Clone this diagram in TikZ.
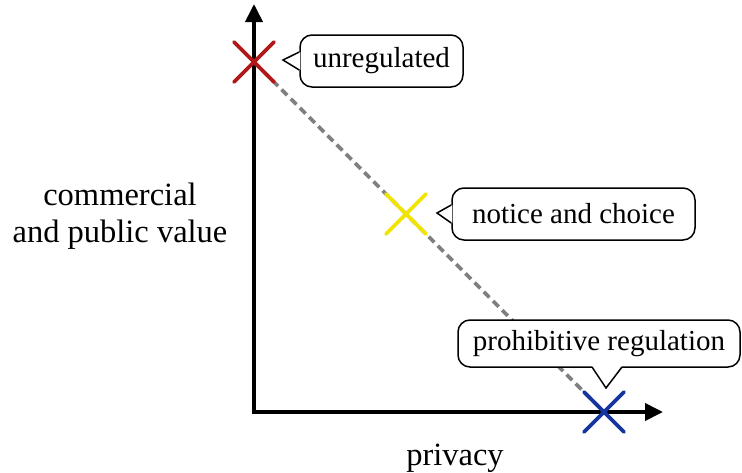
\documentclass[tikz,border=0pt]{standalone}
\usepackage{fontspec}
\setmainfont{Liberation Serif}
\usetikzlibrary{arrows.meta}
\definecolor{markred}{RGB}{178,24,24}
\definecolor{markyellow}{RGB}{240,228,0}
\definecolor{markblue}{RGB}{22,52,160}
\definecolor{trendgray}{RGB}{128,128,128}
\tikzset{
  axis/.style={line width=3.8pt, -{Triangle[length=18pt,width=17pt]}},
  trend/.style={trendgray, line width=3.6pt, dash pattern=on 8pt off 5pt},
  cross/.style={line width=3.8pt, line cap=round},
  bubble/.style={draw, fill=white, line width=1.5pt, rounded corners=12pt,
    inner sep=0pt, font=\fontsize{29}{34}\selectfont},
  tail/.style={draw, line width=1.5pt, line join=miter},
  lbl/.style={font=\fontsize{32.5}{37}\selectfont, inner sep=0pt}
}
\begin{document}
\begin{tikzpicture}[x=1pt,y=-1pt]
\useasboundingbox (0,0) rectangle (742,472);

% axes
\coordinate (origin) at (254,412);
\coordinate (ytop) at (254,4);
\coordinate (xend) at (663,412);
\draw[axis] ([yshift=-1.9pt]origin) -- (ytop);
\draw[axis] ([xshift=-1.9pt]origin) -- (xend);

% positions on the trade-off line
\coordinate (pu) at (254,62);
\coordinate (pn) at (406,214);
\coordinate (pp) at (604,412);
\draw[trend] (pu) -- (pp);

% crosses
\draw[cross, markred] ([shift={(-20,-20)}]pu) -- ([shift={(20,20)}]pu)
                      ([shift={(20,-20)}]pu) -- ([shift={(-20,20)}]pu);
\draw[cross, markyellow] ([shift={(-20,-20)}]pn) -- ([shift={(20,20)}]pn)
                         ([shift={(20,-20)}]pn) -- ([shift={(-20,20)}]pn);
\draw[cross, markblue] ([shift={(-20,-20)}]pp) -- ([shift={(20,20)}]pp)
                       ([shift={(20,-20)}]pp) -- ([shift={(-20,20)}]pp);

% callouts
\node[bubble, minimum width=163pt, minimum height=52pt] (cu) at (381.5,61) {unregulated};
\fill[white] ([shift={(1.2,-9)}]cu.west) -- (283,60) -- ([shift={(1.2,9)}]cu.west) -- cycle;
\draw[tail] ([yshift=-9pt]cu.west) -- (283,60) -- ([yshift=9pt]cu.west);

\node[bubble, minimum width=243pt, minimum height=52pt] (cn) at (573.5,214) {notice and choice};
\fill[white] ([shift={(1.2,-9)}]cn.west) -- (437,213) -- ([shift={(1.2,9)}]cn.west) -- cycle;
\draw[tail] ([yshift=-9pt]cn.west) -- (437,213) -- ([yshift=9pt]cn.west);

\node[bubble, minimum width=282pt, minimum height=47pt] (cp) at (599,343.5) {prohibitive regulation};
\coordinate (tp) at (606,388);
\fill[white] (592,366) -- (tp) -- (622,366) -- cycle;
\draw[tail] (592,367) -- (tp) -- (622,367);

% axis labels
\node[lbl, align=center] (ylab) at (120,216) {commercial\\and public value};
\node[lbl, anchor=base] (xlab) at (455,465) {privacy};
\end{tikzpicture}
\end{document}
